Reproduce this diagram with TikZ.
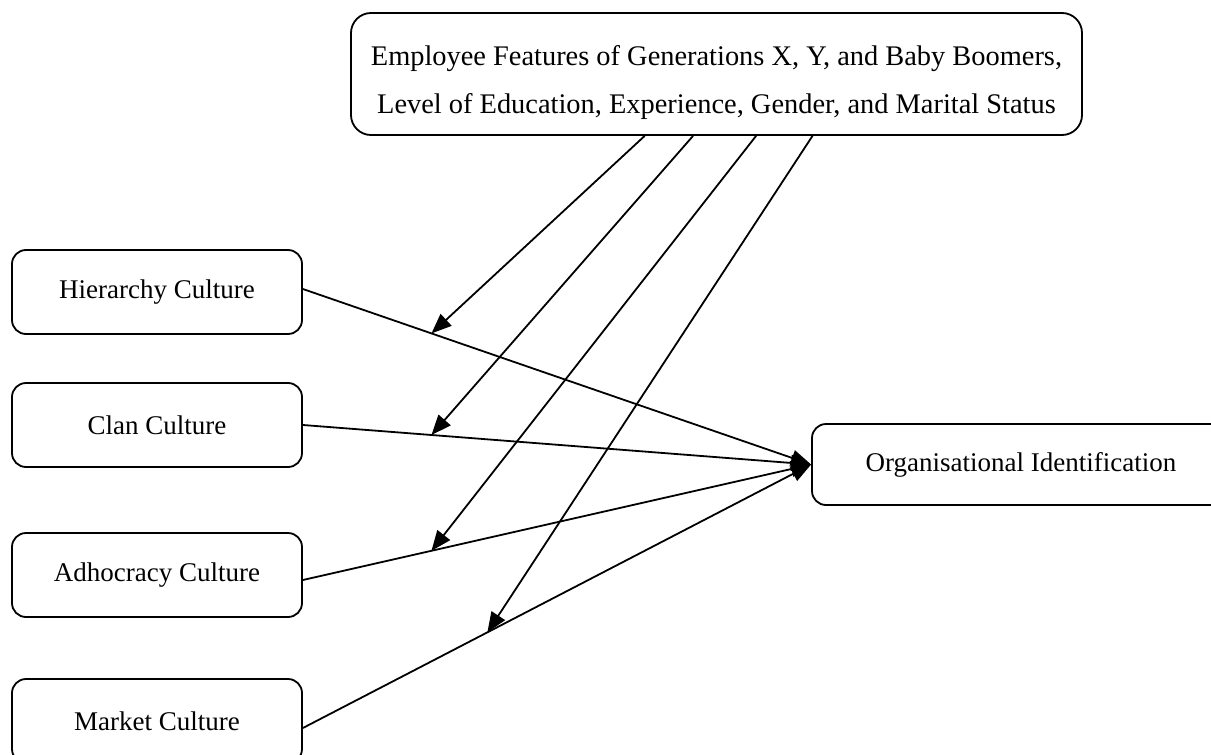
\documentclass[tikz,border=0pt]{standalone}
\usepackage{fontspec}
\setmainfont{Liberation Serif}
\usetikzlibrary{arrows.meta,calc}
\begin{document}
\begin{tikzpicture}[x=0.5pt,y=-0.5pt,
  box/.style={draw, line width=0.9pt, rounded corners=7pt, align=center,
    inner sep=0pt, font=\fontsize{13.5}{24}\selectfont},
  culture/.style={box, minimum width=145pt, minimum height=42pt},
  link/.style={line width=0.9pt, -{Triangle[length=10pt,width=8pt]}},
  moderator/.style={line width=0.9pt, -{Triangle[length=10pt,width=8pt]}}]
\useasboundingbox (0,0) rectangle (1211,755);

% moderating variables
\node[box, rounded corners=10pt, minimum width=365.5pt, minimum height=61pt,
      font=\fontsize{14.2}{24}\selectfont, text height=43pt]
  (emp) at (716.5,74)
  {Employee Features of Generations X, Y, and Baby Boomers,\\
   Level of Education, Experience, Gender, and Marital Status};

% culture types
\node[culture] (hier)   at (157,292) {Hierarchy Culture};
\node[culture] (clan)   at (157,425) {Clan Culture};
\node[culture] (adhoc)  at (157,575) {Adhocracy Culture};
\node[culture] (market) at (157,721) {Market Culture};

% outcome
\node[box, minimum width=209pt, minimum height=40.5pt] (org) at (1021,464.5)
  {Organisational Identification};

% direct effects
\draw[link] ([yshift=1.5pt]hier.east)   -- (org.west);
\draw[link] (clan.east)                 -- (org.west);
\draw[link] ([yshift=-2.5pt]adhoc.east) -- (org.west);
\draw[link] ([yshift=-3.5pt]market.east) -- (org.west);

% points where the moderators meet the direct paths
\coordinate (mh) at ($([yshift=1.5pt]hier.east)!0.253!(org.west)$);
\coordinate (mc) at ($(clan.east)!0.253!(org.west)$);
\coordinate (ma) at ($([yshift=-2.5pt]adhoc.east)!0.253!(org.west)$);
\coordinate (mm) at ($([yshift=-3.5pt]market.east)!0.363!(org.west)$);

% moderating effects
\draw[moderator] ($(emp.south west)!0.402!(emp.south east)$) -- (mh);
\draw[moderator] ($(emp.south west)!0.468!(emp.south east)$) -- (mc);
\draw[moderator] ($(emp.south west)!0.554!(emp.south east)$) -- (ma);
\draw[moderator] ($(emp.south west)!0.631!(emp.south east)$) -- (mm);
\end{tikzpicture}
\end{document}
